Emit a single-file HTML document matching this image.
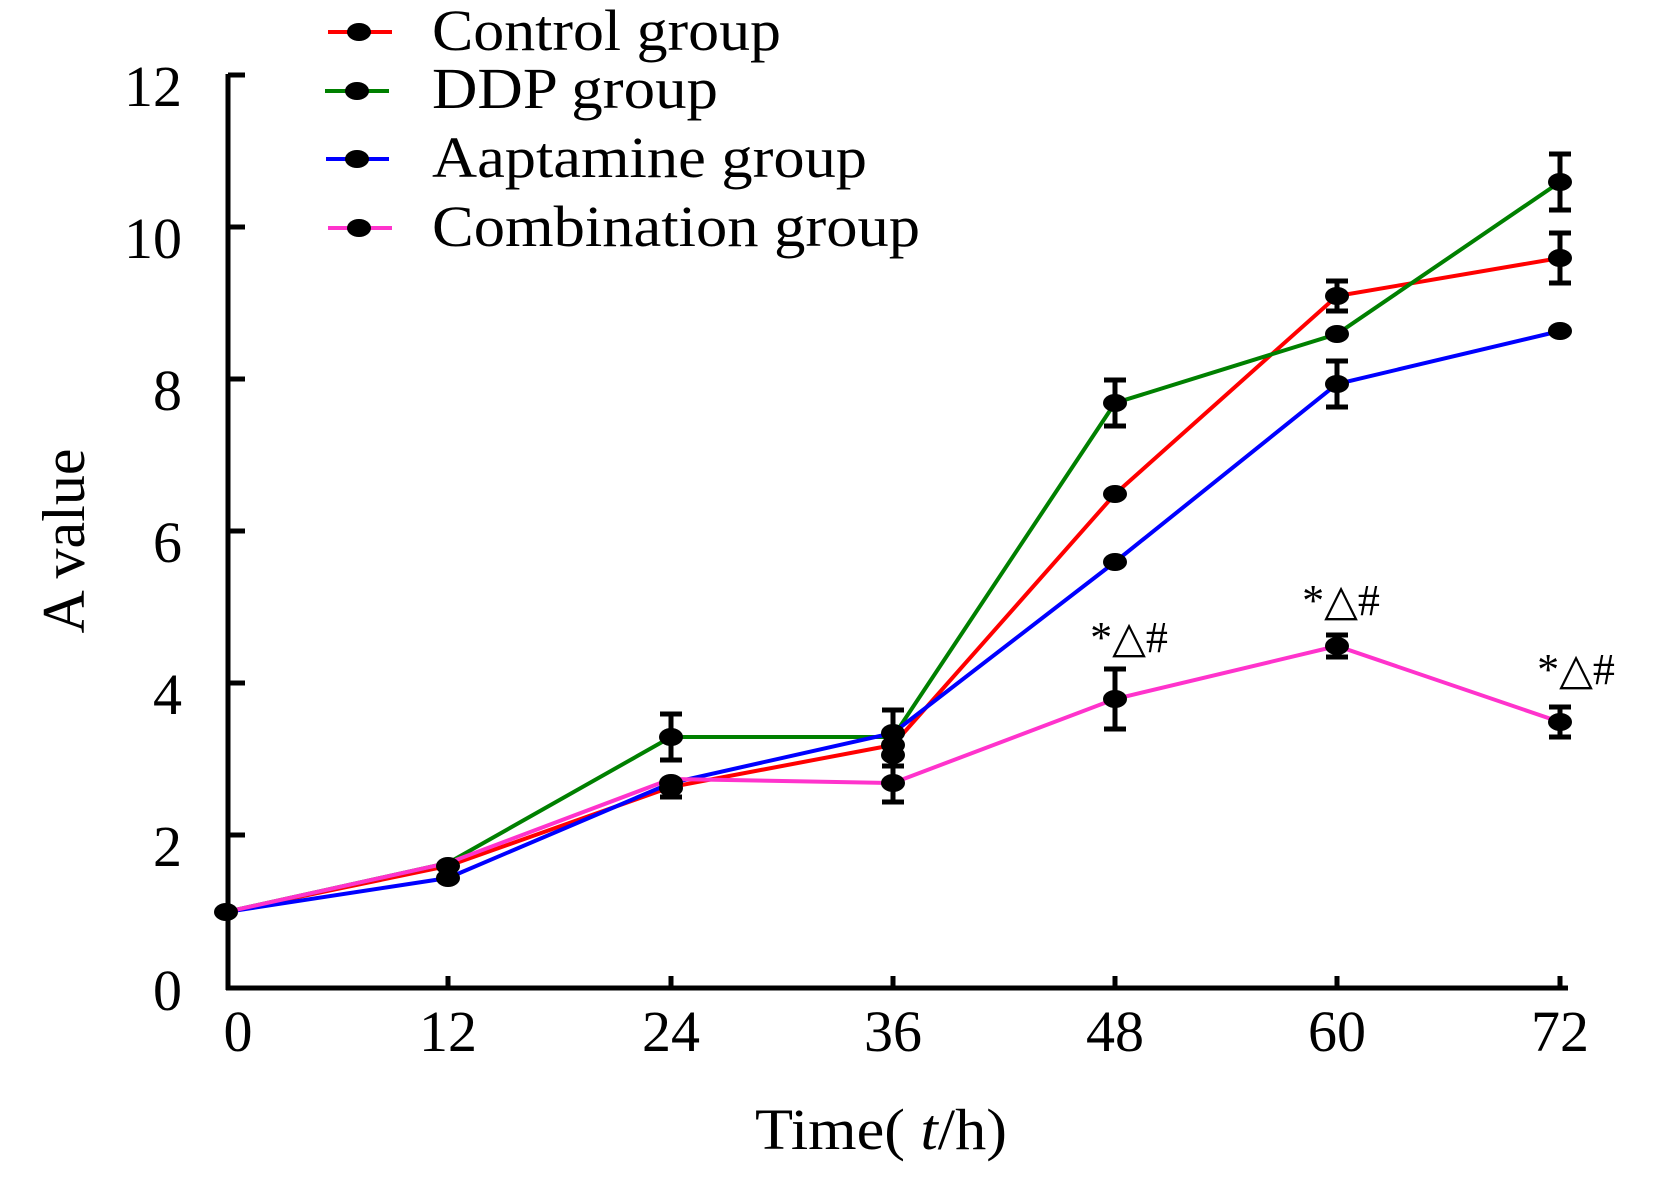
<!DOCTYPE html>
<html><head><meta charset="utf-8"><style>
html,body{margin:0;padding:0;background:#fff;}
svg{display:block;}
text{font-family:"Liberation Serif",serif;fill:#000;}
</style></head><body>
<svg width="1654" height="1181" viewBox="0 0 1654 1181" xmlns="http://www.w3.org/2000/svg">
<g stroke="#000" stroke-width="5" fill="none">
<line x1="228" y1="74" x2="228" y2="990"/>
<line x1="226" y1="988" x2="1568" y2="988"/>
<line x1="228" y1="75" x2="245" y2="75"/>
<line x1="228" y1="227" x2="245" y2="227"/>
<line x1="228" y1="379" x2="245" y2="379"/>
<line x1="228" y1="531" x2="245" y2="531"/>
<line x1="228" y1="683" x2="245" y2="683"/>
<line x1="228" y1="835" x2="245" y2="835"/>
<line x1="448" y1="988" x2="448" y2="976"/>
<line x1="671" y1="988" x2="671" y2="976"/>
<line x1="893" y1="988" x2="893" y2="976"/>
<line x1="1115" y1="988" x2="1115" y2="976"/>
<line x1="1337" y1="988" x2="1337" y2="976"/>
<line x1="1560" y1="988" x2="1560" y2="976"/>
</g>
<g font-size="58" text-anchor="end">
<text x="182" y="106">12</text><text x="182" y="258">10</text><text x="182" y="410">8</text>
<text x="182" y="562">6</text><text x="182" y="714">4</text><text x="182" y="866">2</text><text x="182" y="1010">0</text>
</g>
<g font-size="58" text-anchor="middle">
<text x="238" y="1051">0</text><text x="448" y="1051">12</text><text x="671" y="1051">24</text>
<text x="893" y="1051">36</text><text x="1115" y="1051">48</text><text x="1337" y="1051">60</text><text x="1560" y="1051">72</text>
</g>
<text x="755" y="1149" font-size="58" textLength="252" lengthAdjust="spacingAndGlyphs">Time( <tspan font-style="italic">t</tspan>/h)</text>
<text transform="translate(84,541) rotate(-90)" font-size="60" text-anchor="middle">A value</text>

<g fill="none" stroke-width="4">
<polyline stroke="#ff0000" points="226,912 448,866 671,787 893,745 1115,494 1337,296 1560,258"/>
<polyline stroke="#008000" points="226,912 448,863 671,737 893,737 1115,403 1337,334 1560,182"/>
<polyline stroke="#0000ff" points="226,912 448,878 671,783 893,733 1115,562 1337,384 1560,331"/>
<polyline stroke="#ff33cc" points="226,912 448,863 671,779 893,783 1115,699 1337,646 1560,722"/>
</g>
<g stroke="#000" stroke-width="5">
<path d="M671,714V760M660,714H682M660,760H682"/>
<path d="M893,710V766M882,710H904M882,766H904"/>
<path d="M893,764V802M882,802H904"/>
<path d="M1115,380V426M1104,380H1126M1104,426H1126"/>
<path d="M1560,154V210M1549,154H1571M1549,210H1571"/>
<path d="M1337,281V311M1326,281H1348M1326,311H1348"/>
<path d="M1560,233V283M1549,233H1571M1549,283H1571"/>
<path d="M1337,361V407M1326,361H1348M1326,407H1348"/>
<path d="M1115,669V729M1104,669H1126M1104,729H1126"/>
<path d="M1337,635V657M1326,635H1348M1326,657H1348"/>
<path d="M1560,707V737M1549,707H1571M1549,737H1571"/>
<path d="M671,775V797M660,797H682"/>
</g>
<g fill="#000">
<ellipse cx="226" cy="912" rx="12" ry="9"/>
<ellipse cx="448" cy="866" rx="12" ry="9"/><ellipse cx="448" cy="878" rx="12" ry="9"/>
<ellipse cx="671" cy="737" rx="12" ry="9"/><ellipse cx="671" cy="783" rx="12" ry="9"/><ellipse cx="671" cy="788" rx="12" ry="9"/>
<ellipse cx="893" cy="733" rx="12" ry="9"/><ellipse cx="893" cy="745" rx="12" ry="9"/><ellipse cx="893" cy="755" rx="12" ry="9"/><ellipse cx="893" cy="783" rx="12" ry="9"/>
<ellipse cx="1115" cy="494" rx="12" ry="9"/><ellipse cx="1115" cy="403" rx="12" ry="9"/><ellipse cx="1115" cy="562" rx="12" ry="9"/><ellipse cx="1115" cy="699" rx="12" ry="9"/>
<ellipse cx="1337" cy="296" rx="12" ry="9"/><ellipse cx="1337" cy="334" rx="12" ry="9"/><ellipse cx="1337" cy="384" rx="12" ry="9"/><ellipse cx="1337" cy="646" rx="12" ry="9"/>
<ellipse cx="1560" cy="258" rx="12" ry="9"/><ellipse cx="1560" cy="182" rx="12" ry="9"/><ellipse cx="1560" cy="331" rx="12" ry="9"/><ellipse cx="1560" cy="722" rx="12" ry="9"/>
</g>
<g font-size="44" text-anchor="middle" font-family="Liberation Serif,DejaVu Sans,serif">
<text x="1129" y="652">*△#</text><text x="1341" y="615">*△#</text><text x="1576" y="684">*△#</text>
</g>

<g stroke-width="4">
<line x1="328" y1="32" x2="392" y2="32" stroke="#ff0000"/>
<line x1="325" y1="91" x2="389" y2="91" stroke="#008000"/>
<line x1="326" y1="159" x2="389" y2="159" stroke="#0000ff"/>
<line x1="328" y1="228" x2="392" y2="228" stroke="#ff33cc"/>
</g>
<g fill="#000">
<ellipse cx="359" cy="32" rx="12" ry="9"/><ellipse cx="357" cy="91" rx="12" ry="9"/>
<ellipse cx="357" cy="159" rx="12" ry="9"/><ellipse cx="359" cy="228" rx="12" ry="9"/>
</g>
<g font-size="58">
<text x="432" y="50" textLength="349" lengthAdjust="spacingAndGlyphs">Control group</text>
<text x="432" y="108" textLength="286" lengthAdjust="spacingAndGlyphs">DDP group</text>
<text x="432" y="177" textLength="435" lengthAdjust="spacingAndGlyphs">Aaptamine group</text>
<text x="432" y="246" textLength="488" lengthAdjust="spacingAndGlyphs">Combination group</text>
</g>
</svg>
</body></html>
